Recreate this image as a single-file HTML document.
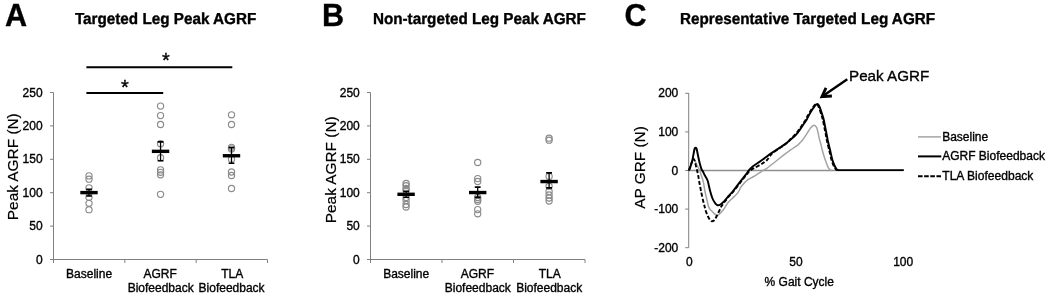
<!DOCTYPE html>
<html><head><meta charset="utf-8"><title>Figure</title>
<style>
html,body{margin:0;padding:0;background:#fff;}
body{width:1050px;height:297px;overflow:hidden;}
svg{display:block;will-change:transform;font-family:"Liberation Sans",sans-serif;fill:#000;}
svg text{stroke:#000;stroke-width:0.35px;}
</style></head><body>
<svg width="1050" height="297" viewBox="0 0 1050 297">
<rect x="0" y="0" width="1050" height="297" fill="#fff"/>
<text transform="translate(5.0 26.3) scale(1 1.045)" font-size="30.6" font-weight="bold">A</text>
<text transform="translate(74.90 24.3) scale(1 1.04)" font-size="15.25" font-weight="bold" style="text-rendering:geometricPrecision">Targeted Leg Peak AGRF</text>
<path d="M53.5 92.5 V259.5" stroke="#808080" stroke-width="1" fill="none"/>
<path d="M50.0 259.50 H53.5" stroke="#808080" stroke-width="1" fill="none"/>
<text x="42.6" y="263.6" font-size="12" text-anchor="end" font-weight="normal" >0</text>
<path d="M50.0 226.10 H53.5" stroke="#808080" stroke-width="1" fill="none"/>
<text x="42.6" y="230.2" font-size="12" text-anchor="end" font-weight="normal" >50</text>
<path d="M50.0 192.70 H53.5" stroke="#808080" stroke-width="1" fill="none"/>
<text x="42.6" y="196.8" font-size="12" text-anchor="end" font-weight="normal" >100</text>
<path d="M50.0 159.30 H53.5" stroke="#808080" stroke-width="1" fill="none"/>
<text x="42.6" y="163.4" font-size="12" text-anchor="end" font-weight="normal" >150</text>
<path d="M50.0 125.90 H53.5" stroke="#808080" stroke-width="1" fill="none"/>
<text x="42.6" y="130.0" font-size="12" text-anchor="end" font-weight="normal" >200</text>
<path d="M50.0 92.50 H53.5" stroke="#808080" stroke-width="1" fill="none"/>
<text x="42.6" y="96.6" font-size="12" text-anchor="end" font-weight="normal" >250</text>
<path d="M50.0 259.5 H267.5" stroke="#808080" stroke-width="1" fill="none"/>
<path d="M53.50 259.5 V263.0" stroke="#808080" stroke-width="1" fill="none"/>
<path d="M124.83 259.5 V263.0" stroke="#808080" stroke-width="1" fill="none"/>
<path d="M196.17 259.5 V263.0" stroke="#808080" stroke-width="1" fill="none"/>
<path d="M267.50 259.5 V263.0" stroke="#808080" stroke-width="1" fill="none"/>
<text transform="translate(18.2 166.7) rotate(-90)" font-size="15.4" text-anchor="middle" style="stroke-width:0.2px">Peak AGRF (N)</text>
<text x="89.1" y="277.7" font-size="12" text-anchor="middle" font-weight="normal" >Baseline</text>
<text x="160.15" y="277.7" font-size="12" text-anchor="middle" font-weight="normal" >AGRF</text>
<text x="160.65" y="291.5" font-size="12" text-anchor="middle" font-weight="normal" >Biofeedback</text>
<text x="232.2" y="277.7" font-size="12" text-anchor="middle" font-weight="normal" >TLA</text>
<text x="231.6" y="291.5" font-size="12" text-anchor="middle" font-weight="normal" >Biofeedback</text>
<circle cx="89.0" cy="175.9" r="3.1" fill="none" stroke="#8b8b8b" stroke-width="1.15"/>
<circle cx="89.0" cy="179.2" r="3.1" fill="none" stroke="#8b8b8b" stroke-width="1.15"/>
<circle cx="89.0" cy="187.8" r="3.1" fill="none" stroke="#8b8b8b" stroke-width="1.15"/>
<circle cx="89.0" cy="192.6" r="3.1" fill="none" stroke="#8b8b8b" stroke-width="1.15"/>
<circle cx="89.0" cy="197.3" r="3.1" fill="none" stroke="#8b8b8b" stroke-width="1.15"/>
<circle cx="89.0" cy="203.3" r="3.1" fill="none" stroke="#8b8b8b" stroke-width="1.15"/>
<circle cx="89.0" cy="209.7" r="3.1" fill="none" stroke="#8b8b8b" stroke-width="1.15"/>
<circle cx="160.55" cy="106.1" r="3.1" fill="none" stroke="#8b8b8b" stroke-width="1.15"/>
<circle cx="160.55" cy="115.6" r="3.1" fill="none" stroke="#8b8b8b" stroke-width="1.15"/>
<circle cx="160.55" cy="124.5" r="3.1" fill="none" stroke="#8b8b8b" stroke-width="1.15"/>
<circle cx="160.55" cy="143.7" r="3.1" fill="none" stroke="#8b8b8b" stroke-width="1.15"/>
<circle cx="160.55" cy="157.7" r="3.1" fill="none" stroke="#8b8b8b" stroke-width="1.15"/>
<circle cx="160.55" cy="169.9" r="3.1" fill="none" stroke="#8b8b8b" stroke-width="1.15"/>
<circle cx="160.55" cy="172.3" r="3.1" fill="none" stroke="#8b8b8b" stroke-width="1.15"/>
<circle cx="160.55" cy="174.8" r="3.1" fill="none" stroke="#8b8b8b" stroke-width="1.15"/>
<circle cx="160.55" cy="194.35" r="3.1" fill="none" stroke="#8b8b8b" stroke-width="1.15"/>
<circle cx="231.5" cy="114.8" r="3.1" fill="none" stroke="#8b8b8b" stroke-width="1.15"/>
<circle cx="231.5" cy="124.5" r="3.1" fill="none" stroke="#8b8b8b" stroke-width="1.15"/>
<circle cx="231.5" cy="147.3" r="3.1" fill="none" stroke="#8b8b8b" stroke-width="1.15"/>
<circle cx="231.5" cy="148.9" r="3.1" fill="none" stroke="#8b8b8b" stroke-width="1.15"/>
<circle cx="231.5" cy="159.2" r="3.1" fill="none" stroke="#8b8b8b" stroke-width="1.15"/>
<circle cx="231.5" cy="172.0" r="3.1" fill="none" stroke="#8b8b8b" stroke-width="1.15"/>
<circle cx="231.5" cy="175.5" r="3.1" fill="none" stroke="#8b8b8b" stroke-width="1.15"/>
<circle cx="231.5" cy="188.5" r="3.1" fill="none" stroke="#8b8b8b" stroke-width="1.15"/>
<path d="M89.0 189.3 V196.0" stroke="#000" stroke-width="1.3" fill="none"/>
<path d="M86.1 189.3 H91.9 M86.1 196.0 H91.9" stroke="#000" stroke-width="1.6" fill="none"/>
<rect x="80.30" y="190.90" width="17.4" height="3.4" fill="#000"/>
<path d="M160.55 141.9 V160.7" stroke="#000" stroke-width="1.3" fill="none"/>
<path d="M157.65 141.9 H163.45000000000002 M157.65 160.7 H163.45000000000002" stroke="#000" stroke-width="1.6" fill="none"/>
<rect x="151.85" y="149.65" width="17.4" height="3.4" fill="#000"/>
<path d="M231.5 147.6 V163.2" stroke="#000" stroke-width="1.3" fill="none"/>
<path d="M228.6 147.6 H234.4 M228.6 163.2 H234.4" stroke="#000" stroke-width="1.6" fill="none"/>
<rect x="222.80" y="154.05" width="17.4" height="3.4" fill="#000"/>
<path d="M86.4 67.3 H232.3" stroke="#000" stroke-width="2" fill="none"/>
<text x="165.8" y="67.3" font-size="20" text-anchor="middle" font-weight="normal" >*</text>
<path d="M86.4 92.95 H163.2" stroke="#000" stroke-width="2" fill="none"/>
<text x="124.8" y="93.8" font-size="20" text-anchor="middle" font-weight="normal" >*</text>
<text transform="translate(322.0 26.3) scale(1 1.045)" font-size="30.6" font-weight="bold">B</text>
<text transform="translate(372.90 24.3) scale(1 1.04)" font-size="15.25" font-weight="bold" style="text-rendering:geometricPrecision">Non-targeted Leg Peak AGRF</text>
<path d="M370.5 92.5 V259.5" stroke="#808080" stroke-width="1" fill="none"/>
<path d="M367.0 259.50 H370.5" stroke="#808080" stroke-width="1" fill="none"/>
<text x="359.8" y="263.6" font-size="12" text-anchor="end" font-weight="normal" >0</text>
<path d="M367.0 226.10 H370.5" stroke="#808080" stroke-width="1" fill="none"/>
<text x="359.8" y="230.2" font-size="12" text-anchor="end" font-weight="normal" >50</text>
<path d="M367.0 192.70 H370.5" stroke="#808080" stroke-width="1" fill="none"/>
<text x="359.8" y="196.8" font-size="12" text-anchor="end" font-weight="normal" >100</text>
<path d="M367.0 159.30 H370.5" stroke="#808080" stroke-width="1" fill="none"/>
<text x="359.8" y="163.4" font-size="12" text-anchor="end" font-weight="normal" >150</text>
<path d="M367.0 125.90 H370.5" stroke="#808080" stroke-width="1" fill="none"/>
<text x="359.8" y="130.0" font-size="12" text-anchor="end" font-weight="normal" >200</text>
<path d="M367.0 92.50 H370.5" stroke="#808080" stroke-width="1" fill="none"/>
<text x="359.8" y="96.6" font-size="12" text-anchor="end" font-weight="normal" >250</text>
<path d="M367.0 259.5 H585.0" stroke="#808080" stroke-width="1" fill="none"/>
<path d="M370.50 259.5 V263.0" stroke="#808080" stroke-width="1" fill="none"/>
<path d="M442.00 259.5 V263.0" stroke="#808080" stroke-width="1" fill="none"/>
<path d="M513.50 259.5 V263.0" stroke="#808080" stroke-width="1" fill="none"/>
<path d="M585.00 259.5 V263.0" stroke="#808080" stroke-width="1" fill="none"/>
<text transform="translate(336.0 169.8) rotate(-90)" font-size="15.4" text-anchor="middle" style="stroke-width:0.2px">Peak AGRF (N)</text>
<text x="406.2" y="277.7" font-size="12" text-anchor="middle" font-weight="normal" >Baseline</text>
<text x="477.3" y="277.7" font-size="12" text-anchor="middle" font-weight="normal" >AGRF</text>
<text x="477.8" y="291.5" font-size="12" text-anchor="middle" font-weight="normal" >Biofeedback</text>
<text x="549.8" y="277.7" font-size="12" text-anchor="middle" font-weight="normal" >TLA</text>
<text x="549.2" y="291.5" font-size="12" text-anchor="middle" font-weight="normal" >Biofeedback</text>
<circle cx="406.1" cy="183.5" r="3.1" fill="none" stroke="#8b8b8b" stroke-width="1.15"/>
<circle cx="406.1" cy="185.7" r="3.1" fill="none" stroke="#8b8b8b" stroke-width="1.15"/>
<circle cx="406.1" cy="188.5" r="3.1" fill="none" stroke="#8b8b8b" stroke-width="1.15"/>
<circle cx="406.1" cy="190.5" r="3.1" fill="none" stroke="#8b8b8b" stroke-width="1.15"/>
<circle cx="406.1" cy="197.5" r="3.1" fill="none" stroke="#8b8b8b" stroke-width="1.15"/>
<circle cx="406.1" cy="200.5" r="3.1" fill="none" stroke="#8b8b8b" stroke-width="1.15"/>
<circle cx="406.1" cy="204.5" r="3.1" fill="none" stroke="#8b8b8b" stroke-width="1.15"/>
<circle cx="406.1" cy="207.0" r="3.1" fill="none" stroke="#8b8b8b" stroke-width="1.15"/>
<circle cx="477.7" cy="162.5" r="3.1" fill="none" stroke="#8b8b8b" stroke-width="1.15"/>
<circle cx="477.7" cy="178.6" r="3.1" fill="none" stroke="#8b8b8b" stroke-width="1.15"/>
<circle cx="477.7" cy="181.5" r="3.1" fill="none" stroke="#8b8b8b" stroke-width="1.15"/>
<circle cx="477.7" cy="197.5" r="3.1" fill="none" stroke="#8b8b8b" stroke-width="1.15"/>
<circle cx="477.7" cy="199.5" r="3.1" fill="none" stroke="#8b8b8b" stroke-width="1.15"/>
<circle cx="477.7" cy="201.3" r="3.1" fill="none" stroke="#8b8b8b" stroke-width="1.15"/>
<circle cx="477.7" cy="209.6" r="3.1" fill="none" stroke="#8b8b8b" stroke-width="1.15"/>
<circle cx="477.7" cy="213.8" r="3.1" fill="none" stroke="#8b8b8b" stroke-width="1.15"/>
<circle cx="549.1" cy="138.2" r="3.1" fill="none" stroke="#8b8b8b" stroke-width="1.15"/>
<circle cx="549.1" cy="140.2" r="3.1" fill="none" stroke="#8b8b8b" stroke-width="1.15"/>
<circle cx="549.1" cy="176.4" r="3.1" fill="none" stroke="#8b8b8b" stroke-width="1.15"/>
<circle cx="549.1" cy="186.2" r="3.1" fill="none" stroke="#8b8b8b" stroke-width="1.15"/>
<circle cx="549.1" cy="191.5" r="3.1" fill="none" stroke="#8b8b8b" stroke-width="1.15"/>
<circle cx="549.1" cy="195.0" r="3.1" fill="none" stroke="#8b8b8b" stroke-width="1.15"/>
<circle cx="549.1" cy="198.0" r="3.1" fill="none" stroke="#8b8b8b" stroke-width="1.15"/>
<circle cx="549.1" cy="201.0" r="3.1" fill="none" stroke="#8b8b8b" stroke-width="1.15"/>
<path d="M406.1 191.4 V197.2" stroke="#000" stroke-width="1.3" fill="none"/>
<path d="M403.20000000000005 191.4 H409.0 M403.20000000000005 197.2 H409.0" stroke="#000" stroke-width="1.6" fill="none"/>
<rect x="397.40" y="192.60" width="17.4" height="3.4" fill="#000"/>
<path d="M477.7 187.1 V197.4" stroke="#000" stroke-width="1.3" fill="none"/>
<path d="M474.8 187.1 H480.59999999999997 M474.8 197.4 H480.59999999999997" stroke="#000" stroke-width="1.6" fill="none"/>
<rect x="469.00" y="190.85" width="17.4" height="3.4" fill="#000"/>
<path d="M549.1 172.9 V187.9" stroke="#000" stroke-width="1.3" fill="none"/>
<path d="M546.2 172.9 H552.0 M546.2 187.9 H552.0" stroke="#000" stroke-width="1.6" fill="none"/>
<rect x="540.40" y="179.85" width="17.4" height="3.4" fill="#000"/>
<text transform="translate(624.5 26.3) scale(1 1.045)" font-size="30.6" font-weight="bold">C</text>
<text transform="translate(680.0 24.3) scale(1 1.04)" font-size="15.25" font-weight="bold" style="text-rendering:geometricPrecision">Representative Targeted Leg AGRF</text>
<path d="M688.7 93 V247.7" stroke="#808080" stroke-width="1" fill="none"/>
<path d="M685.2 93.30 H688.7" stroke="#808080" stroke-width="1" fill="none"/>
<text x="678.3" y="97.4" font-size="12" text-anchor="end" font-weight="normal" >200</text>
<path d="M685.2 131.90 H688.7" stroke="#808080" stroke-width="1" fill="none"/>
<text x="678.3" y="136.0" font-size="12" text-anchor="end" font-weight="normal" >100</text>
<path d="M685.2 170.50 H688.7" stroke="#808080" stroke-width="1" fill="none"/>
<text x="678.3" y="174.6" font-size="12" text-anchor="end" font-weight="normal" >0</text>
<path d="M685.2 209.10 H688.7" stroke="#808080" stroke-width="1" fill="none"/>
<text x="678.3" y="213.2" font-size="12" text-anchor="end" font-weight="normal" >-100</text>
<path d="M685.2 247.70 H688.7" stroke="#808080" stroke-width="1" fill="none"/>
<text x="678.3" y="251.8" font-size="12" text-anchor="end" font-weight="normal" >-200</text>
<path d="M688.7 170.5 H903.5" stroke="#8e8e8e" stroke-width="1.5" fill="none"/>
<text transform="translate(644.8 167.5) rotate(-90)" font-size="15.4" text-anchor="middle" style="stroke-width:0.2px">AP GRF (N)</text>
<text x="689.3" y="266.4" font-size="12" text-anchor="middle" font-weight="normal" >0</text>
<text x="796.0" y="266.4" font-size="12" text-anchor="middle" font-weight="normal" >50</text>
<text x="903.2" y="266.4" font-size="12" text-anchor="middle" font-weight="normal" >100</text>
<text x="799.3" y="285.5" font-size="12" text-anchor="middle" font-weight="normal" >% Gait Cycle</text>
<path d="M688.90 170.50 C689.13 169.93 690.02 167.78 690.50 166.50 C690.98 165.22 691.83 162.48 692.30 161.50 C692.77 160.52 693.38 159.60 693.80 159.60 C694.22 159.60 694.78 160.59 695.30 161.50 C695.82 162.41 696.90 164.80 697.50 166.00 C698.10 167.20 698.93 168.58 699.50 170.00 C700.07 171.42 700.95 174.29 701.50 176.00 C702.05 177.71 702.95 180.12 703.40 182.10 C703.85 184.08 704.26 187.72 704.70 190.00 C705.14 192.28 705.90 195.72 706.50 198.20 C707.10 200.68 708.22 205.74 708.90 207.50 C709.58 209.26 710.63 209.82 711.30 210.60 C711.97 211.38 712.89 212.35 713.60 213.00 C714.31 213.65 715.68 214.92 716.30 215.20 C716.92 215.48 717.48 215.25 718.00 215.00 C718.52 214.75 719.39 213.97 720.00 213.40 C720.61 212.83 721.70 211.67 722.30 211.00 C722.89 210.33 723.44 209.83 724.20 208.70 C724.97 207.57 726.54 204.49 727.70 203.00 C728.86 201.51 730.97 199.63 732.40 198.20 C733.83 196.77 736.51 194.60 737.80 192.90 C739.09 191.20 740.05 188.07 741.50 186.20 C742.95 184.33 746.27 181.07 748.00 179.70 C749.73 178.33 751.65 177.76 753.70 176.50 C755.75 175.24 760.64 171.96 762.50 170.80 C764.36 169.64 765.03 169.55 766.80 168.30 C768.57 167.05 772.62 163.87 775.00 162.00 C777.38 160.13 781.39 156.83 783.60 155.10 C785.81 153.37 788.60 151.22 790.60 149.80 C792.60 148.38 796.23 146.23 797.70 145.10 C799.17 143.97 800.16 142.72 801.00 141.80 C801.84 140.88 802.74 139.80 803.60 138.60 C804.46 137.40 806.15 134.75 807.10 133.30 C808.05 131.86 809.55 129.41 810.30 128.40 C811.05 127.39 811.86 126.64 812.40 126.20 C812.94 125.76 813.63 125.30 814.10 125.30 C814.57 125.30 815.30 125.80 815.70 126.20 C816.10 126.60 816.56 127.15 816.90 128.10 C817.24 129.05 817.76 131.41 818.10 132.90 C818.44 134.39 818.93 137.10 819.30 138.60 C819.67 140.10 820.22 141.64 820.70 143.50 C821.18 145.36 822.03 149.32 822.70 151.70 C823.37 154.08 824.63 158.09 825.40 160.30 C826.16 162.51 827.35 165.91 828.10 167.30 C828.85 168.69 830.15 169.65 830.70 170.10 C831.25 170.55 831.82 170.44 832.00 170.50" stroke="#a4a4a4" stroke-width="1.5" fill="none" stroke-linejoin="round" stroke-linecap="butt"/>
<path d="M688.90 170.50 C689.13 169.93 690.00 167.99 690.50 166.50 C691.00 165.01 691.88 162.27 692.40 160.00 C692.92 157.73 693.86 152.16 694.20 150.50 C694.54 148.84 694.60 148.70 694.80 148.30 C695.00 147.90 695.37 147.70 695.60 147.70 C695.83 147.70 696.20 147.90 696.40 148.30 C696.60 148.70 696.79 149.55 697.00 150.50 C697.21 151.45 697.59 153.51 697.90 155.00 C698.21 156.49 698.87 159.57 699.20 161.00 C699.53 162.43 699.86 163.90 700.20 165.10 C700.54 166.30 701.22 168.59 701.60 169.50 C701.98 170.41 702.48 170.72 702.90 171.50 C703.32 172.28 703.93 173.72 704.60 175.00 C705.27 176.28 706.84 178.30 707.60 180.50 C708.37 182.70 709.31 187.95 710.00 190.50 C710.69 193.05 711.75 196.69 712.50 198.50 C713.25 200.31 714.56 202.34 715.30 203.30 C716.04 204.26 716.96 205.13 717.70 205.30 C718.44 205.47 719.64 205.01 720.50 204.50 C721.36 203.99 722.65 202.90 723.80 201.70 C724.95 200.50 727.34 197.44 728.60 196.00 C729.86 194.56 731.10 193.47 732.70 191.50 C734.30 189.53 738.40 184.04 739.90 182.10 C741.40 180.16 742.35 179.00 743.30 177.80 C744.25 176.60 745.79 174.68 746.60 173.60 C747.41 172.52 748.25 171.11 749.00 170.20 C749.75 169.29 750.98 168.01 751.90 167.20 C752.82 166.39 754.42 165.25 755.50 164.50 C756.58 163.75 758.30 162.74 759.50 161.90 C760.70 161.06 762.80 159.49 764.00 158.60 C765.20 157.71 766.89 156.41 768.00 155.60 C769.11 154.79 770.38 153.85 771.80 152.90 C773.22 151.95 776.33 150.00 778.00 148.90 C779.67 147.80 782.21 146.09 783.60 145.10 C784.99 144.11 786.64 142.82 787.80 141.90 C788.96 140.98 790.78 139.48 791.80 138.60 C792.82 137.72 794.15 136.55 795.00 135.70 C795.85 134.85 796.92 133.72 797.80 132.60 C798.68 131.48 800.39 128.98 801.20 127.80 C802.01 126.62 802.71 125.49 803.50 124.30 C804.29 123.11 806.08 120.60 806.80 119.40 C807.52 118.20 807.79 117.23 808.60 115.80 C809.41 114.37 811.52 110.80 812.50 109.30 C813.48 107.80 814.82 105.97 815.50 105.20 C816.18 104.44 816.82 103.86 817.30 103.90 C817.78 103.94 818.45 104.73 818.90 105.50 C819.35 106.27 819.98 107.84 820.50 109.30 C821.02 110.76 822.13 114.28 822.60 115.80 C823.07 117.32 823.40 118.26 823.80 120.00 C824.20 121.74 824.95 125.80 825.40 128.10 C825.85 130.39 826.62 134.23 827.00 136.20 C827.38 138.17 827.65 139.96 828.10 142.00 C828.55 144.04 829.58 148.01 830.20 150.60 C830.82 153.19 831.79 157.98 832.50 160.30 C833.21 162.62 834.56 165.68 835.20 167.00 C835.84 168.32 836.52 169.16 837.00 169.60 C837.48 170.04 838.37 170.03 838.60 170.10 L903.8 170.1" stroke="#000" stroke-width="1.95" fill="none" stroke-linejoin="round" stroke-linecap="butt"/>
<path d="M688.90 170.50 C689.13 169.86 690.03 167.35 690.50 166.00 C690.97 164.65 691.76 162.05 692.20 161.00 C692.64 159.95 693.23 158.60 693.60 158.60 C693.97 158.60 694.52 160.15 694.80 161.00 C695.08 161.85 695.29 163.32 695.60 164.60 C695.91 165.88 696.63 168.46 697.00 170.00 C697.37 171.54 697.90 173.94 698.20 175.50 C698.50 177.06 698.68 178.66 699.10 181.00 C699.52 183.34 700.61 189.10 701.20 192.00 C701.80 194.90 702.82 199.45 703.30 201.50 C703.78 203.55 704.25 205.15 704.60 206.50 C704.95 207.85 705.32 209.58 705.80 211.00 C706.28 212.42 707.35 215.15 708.00 216.50 C708.65 217.85 709.82 219.82 710.40 220.50 C710.98 221.18 711.52 221.36 712.10 221.30 C712.68 221.24 713.82 220.89 714.50 220.10 C715.18 219.31 716.19 217.09 716.90 215.70 C717.61 214.31 718.88 211.60 719.50 210.30 C720.12 209.00 720.89 207.27 721.30 206.50 C721.71 205.73 722.02 205.45 722.40 204.90 C722.78 204.35 723.12 203.76 724.00 202.60 C724.88 201.44 727.37 198.16 728.60 196.70 C729.83 195.24 731.07 194.27 732.70 192.30 C734.33 190.33 738.57 184.76 740.10 182.80 C741.63 180.84 742.55 179.70 743.50 178.50 C744.45 177.30 745.85 175.45 746.80 174.30 C747.75 173.15 749.00 171.36 750.20 170.40 C751.40 169.44 753.63 168.45 755.30 167.50 C756.97 166.55 760.34 164.76 762.00 163.70 C763.66 162.64 765.60 161.43 767.00 160.00 C768.40 158.57 770.34 155.13 771.90 153.60 C773.46 152.07 776.34 150.36 778.00 149.20 C779.66 148.04 782.21 146.39 783.60 145.40 C784.99 144.41 786.77 143.16 787.80 142.20 C788.83 141.24 790.01 139.52 790.90 138.60 C791.79 137.68 793.25 136.55 794.10 135.70 C794.95 134.85 796.02 133.72 796.90 132.60 C797.78 131.48 799.49 128.98 800.30 127.80 C801.11 126.62 801.81 125.49 802.60 124.30 C803.39 123.11 805.18 120.60 805.90 119.40 C806.62 118.20 806.89 117.23 807.70 115.80 C808.51 114.37 810.62 110.80 811.60 109.30 C812.58 107.80 813.92 105.97 814.60 105.20 C815.28 104.44 815.92 103.86 816.40 103.90 C816.88 103.94 817.55 104.73 818.00 105.50 C818.45 106.27 819.08 107.84 819.60 109.30 C820.12 110.76 821.23 114.28 821.70 115.80 C822.17 117.32 822.50 118.26 822.90 120.00 C823.30 121.74 824.05 125.80 824.50 128.10 C824.95 130.39 825.72 134.23 826.10 136.20 C826.48 138.17 826.75 139.96 827.20 142.00 C827.65 144.04 828.68 148.01 829.30 150.60 C829.92 153.19 830.89 157.98 831.60 160.30 C832.31 162.62 833.66 165.68 834.30 167.00 C834.94 168.32 835.62 169.16 836.10 169.60 C836.58 170.04 837.47 170.03 837.70 170.10" stroke="#000" stroke-width="1.9" fill="none" stroke-linejoin="round" stroke-linecap="butt" stroke-dasharray="4 2"/>
<path d="M847.3 79.2 L822.5 96.2" stroke="#000" stroke-width="2.4" fill="none"/>
<path d="M826.0 87.8 L821.9 96.6 L831.9 96.0" stroke="#000" stroke-width="2.8" fill="none" stroke-linejoin="miter" stroke-miterlimit="10"/>
<text x="849.0" y="80.6" font-size="15.2" text-anchor="start" font-weight="normal" >Peak AGRF</text>
<path d="M918 136.9 H941.0" stroke="#a4a4a4" stroke-width="1.5" fill="none"/>
<path d="M918 156.4 H941.3" stroke="#000" stroke-width="2" fill="none"/>
<path d="M918 176.2 H941.6" stroke="#000" stroke-width="2" stroke-dasharray="4.6 1.55" fill="none"/>
<text x="942.2" y="141.0" font-size="12" text-anchor="start" font-weight="normal" >Baseline</text>
<text x="942.2" y="160.3" font-size="12" text-anchor="start" font-weight="normal" >AGRF Biofeedback</text>
<text x="942.3" y="180.2" font-size="12.05" text-anchor="start" font-weight="normal" >TLA Biofeedback</text>
</svg>
</body></html>
